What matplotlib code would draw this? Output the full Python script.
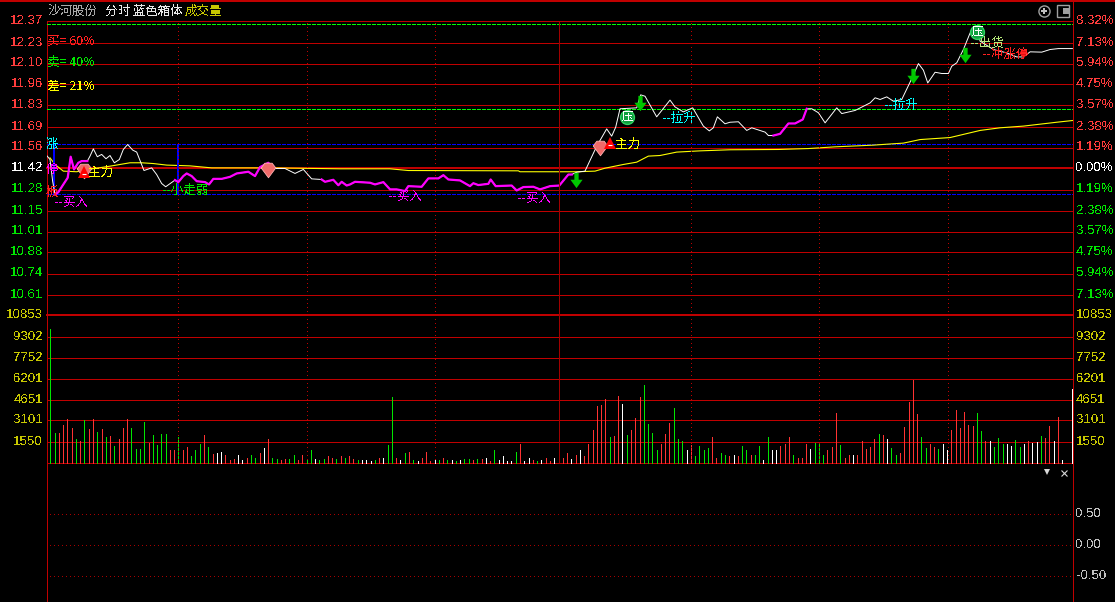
import matplotlib
matplotlib.use("Agg")
import matplotlib.pyplot as plt
import numpy as np

plt.rcParams['font.family'] = ['Noto Sans CJK SC', 'DejaVu Sans']
plt.rcParams['text.antialiased'] = False

# price line (minute of the session, price)
price_minutes = [
    -0.85, -0.07, 0.55, 1.10, 1.88, 3.05, 4.07, 4.77, 5.55, 6.56, 7.35, 8.67, 9.30, 10.08, 11.01, 12.03,
    13.04, 13.98, 15.0, 16.17, 17.1, 18.12, 19.29, 20.23, 21.94, 23.74, 24.91, 26.08, 27.02, 29.2, 29.98,
    31.15, 31.94, 33.11, 34.28, 36.23, 37.17, 38.18, 40.13, 42.08, 43.65, 46.38, 47.94, 49.11, 51.06,
    52.23, 54.96, 57.31, 59.26, 61.21, 63.55, 64.33, 66.28, 67.46, 68.24, 69.41, 70.19, 71.36, 74.87,
    76.04, 78.0, 79.56, 81.12, 83.07, 83.85, 86.97, 88.53, 90.88, 92.05, 93.22, 95.95, 98.29, 99.07,
    100.24, 102.59, 103.13, 104.3, 108.05, 109.22, 110.78, 113.12, 114.69, 117.03, 119.21, 121.32, 122.1,
    123.27, 125.22, 127.96, 130.3, 131.47, 132.41, 133.42, 137.33, 138.26, 139.28, 142.01, 145.13, 146.3,
    148.25, 150.44, 152.94, 154.34, 155.28, 156.22, 158.01, 159.18, 161.15, 163.1, 164.27, 167.4, 168.18,
    169.35, 170.91, 172.86, 174.42, 176.22, 177.15, 178.33, 179.89, 181.45, 184.18, 185.35, 188.47,
    191.99, 193.16, 194.33, 195.89, 197.45, 199.4, 201.35, 203.31, 204.48, 205.49, 207.21, 208.77, 210.33,
    211.11, 212.28, 213.84, 215.41, 216.97, 217.75, 220.87, 224.0, 226.33, 227.9, 229.46, 232.19, 234.14,
    236.1, 239.37,
]
price_values = [
    11.504, 11.478, 11.338, 11.252, 11.267, 11.317, 11.360, 11.496, 11.414, 11.457, 11.468, 11.468, 11.500,
    11.547, 11.496, 11.511, 11.483, 11.504, 11.457, 11.478, 11.543, 11.575, 11.539, 11.526, 11.407, 11.424,
    11.381, 11.323, 11.302, 11.345, 11.332, 11.371, 11.388, 11.371, 11.338, 11.332, 11.317, 11.353, 11.353,
    11.366, 11.388, 11.399, 11.371, 11.429, 11.457, 11.420, 11.420, 11.388, 11.414, 11.353, 11.349, 11.334,
    11.347, 11.312, 11.334, 11.310, 11.317, 11.334, 11.328, 11.317, 11.332, 11.285, 11.285, 11.274, 11.306,
    11.302, 11.356, 11.356, 11.377, 11.349, 11.343, 11.306, 11.325, 11.313, 11.321, 11.349, 11.306, 11.310,
    11.278, 11.300, 11.302, 11.285, 11.306, 11.310, 11.381, 11.381, 11.396, 11.403, 11.564, 11.676, 11.629,
    11.687, 11.806, 11.812, 11.896, 11.887, 11.754, 11.862, 11.818, 11.786, 11.812, 11.694, 11.663, 11.683,
    11.754, 11.709, 11.719, 11.722, 11.666, 11.683, 11.655, 11.633, 11.633, 11.644, 11.711, 11.711, 11.737,
    11.806, 11.806, 11.780, 11.715, 11.812, 11.775, 11.795, 11.844, 11.877, 11.866, 11.883, 11.855, 11.866,
    11.978, 12.098, 12.055, 11.973, 12.042, 12.034, 12.034, 12.081, 12.103, 12.189, 12.296, 12.329, 12.243,
    12.189, 12.167, 12.141, 12.141, 12.174, 12.172, 12.189, 12.195, 12.195,
]
# stretches of the price line shown in magenta
magenta_spans = [(1.10, 8.67), (29.2, 52.23), (63.55, 122.1), (169.35, 177.15)]

# average price line
avg_minutes = [
    -0.07, 1.10, 3.05, 6.17, 8.91, 13.98, 16.32, 18.66, 21.4, 24.13, 27.25, 32.72, 37.79, 52.23, 67.84,
    79.56, 83.85, 109.61, 110.0, 123.27, 127.57, 129.91, 134.2, 137.33, 140.06, 142.79, 146.69, 152.16,
    159.18, 170.52, 177.55, 183.79, 192.77, 195.89, 199.79, 203.7, 210.72, 217.75, 222.43, 227.9, 235.7,
    239.37,
]
avg_values = [
    11.489, 11.446, 11.403, 11.399, 11.414, 11.435, 11.446, 11.457, 11.457, 11.452, 11.442, 11.437, 11.424,
    11.424, 11.418, 11.418, 11.407, 11.405, 11.399, 11.399, 11.403, 11.422, 11.446, 11.461, 11.500, 11.504,
    11.526, 11.534, 11.541, 11.543, 11.549, 11.560, 11.571, 11.577, 11.584, 11.607, 11.620, 11.666, 11.683,
    11.694, 11.719, 11.730,
]

# volume per minute, with direction: r up, g down, w flat
volumes = [
    9865, 2214, 2214, 2804, 3247, 2583, 1771, 1624, 3173, 2509, 3247, 2288, 2509, 1919, 1993, 1255, 1771,
    2583, 3247, 2583, 1033, 1033, 3026, 1476, 2066, 1328, 2140, 2140, 959, 959, 1919, 886, 1181, 443, 886,
    1402, 2066, 1181, 664, 738, 812, 517, 148, 295, 590, 221, 369, 517, 369, 738, 1107, 1771, 369, 295, 148,
    295, 295, 517, 148, 517, 295, 886, 295, 221, 295, 443, 369, 295, 443, 369, 443, 295, 221, 221, 221, 74,
    148, 369,
    369, 1328, 4871, 369, 148, 738, 812, 221, 74, 369, 812, 74, 221, 148, 369, 221, 221, 74, 148, 295, 295,
    148, 295, 295, 369, 74, 886, 148, 443, 74, 74, 812, 1402, 74, 369, 148, 74, 221, 369, 74, 369, 0, 369,
    738, 295, 517, 959, 443, 1402, 2435, 4207, 4280, 4723, 1919, 1993, 4945, 4354, 2066, 2435, 3321, 4871,
    5756, 2878, 2214, 959, 1402, 2140, 2952, 4059, 1771, 1624, 886, 1328, 443, 1255, 886, 1107, 1919, 369,
    738, 590,
    443, 590, 443, 1255, 959, 590, 517, 1255, 221, 1919, 886, 886, 1255, 1402, 1919, 590, 369, 369, 1402,
    1033, 1476, 1402, 590, 959, 1181, 3690, 1328, 369, 590, 517, 590, 1624, 1033, 1181, 1771, 2140, 2066,
    1771, 1107, 517, 738, 2657, 4502, 6125, 3616, 1919, 1107, 1402, 1181, 1033, 1402, 886, 2435, 3911, 2583,
    3764, 2804, 2731, 3690, 2362, 1624, 1624, 1181, 1845, 1402, 1402, 1255, 1697, 1181, 1402, 1624, 1476,
    1550, 1993, 1845, 2731, 1624, 3395, 221, 0, 5436,
]
directions = (
    "ggrrrrgrgr rgrgrgrrrg gggrggggrr grrgggrgrw wrrrwwrggr wrggrrggrr ggwggrrgrg rrgwwwgr"
    "wggrwgrgwr rrwgrgwgwg grgrwrgwww wgrwwrgwrr wwrrwrwrrr rrrgrrwgrr rggggrrrgg gwrggggrrg g"
    "rwrggrggwg wwrrrgrrrw gggrrrgrrw rrrrrgrwgg rrrrrggrrg wwrrrrrrgg rwgggwwggw rwwgrrwrw ww"
).replace(" ", "")
volume_minutes = np.arange(240.0)
volume_minutes[-1] = 239.35

price_ticks = ["12.37", "12.23", "12.10", "11.96", "11.83", "11.69", "11.56", "11.42",
               "11.28", "11.15", "11.01", "10.88", "10.74", "10.61"]
pct_ticks = ["8.32%", "7.13%", "5.94%", "4.75%", "3.57%", "2.38%", "1.19%", "0.00%",
             "1.19%", "2.38%", "3.57%", "4.75%", "5.94%", "7.13%"]
volume_ticks = [10853, 9302, 7752, 6201, 4651, 3101, 1550]
lower_ticks = [0.5, 0.0, -0.5]

# signal marks (minute, price)
gems = [(7.9, 11.405), (51, 11.412), (128.7, 11.554)]
red_flags = [(7.9, 11.399), (131.1, 11.586)]
arrows = [(123.1, 11.347), (138.1, 11.844), (202.1, 12.019), (214.2, 12.155)]
press_marks = [(135.1, 11.754), (217.0, 12.303)]
blue_bars = [(0.9, 11.258, 11.58), (30, 11.258, 11.58)]
notes = [
    (0.9, 11.198, "--买入", "#ff00ff"), (8.8, 11.392, "主力", "#ffff00"), (26.2, 11.282, "--小走弱", "#00e600"),
    (79.3, 11.237, "--买入", "#ff00ff"), (109.3, 11.224, "--买入", "#ff00ff"), (132.3, 11.573, "主力", "#ffff00"),
    (143.3, 11.741, "--拉升", "#00ffff"), (195.3, 11.825, "--拉升", "#00ffff"),
    (215.4, 12.232, "--出货", "#b4e678"), (218.4, 12.155, "--冲涨停", "#ff2020"),
]

W, H = 1115, 602
RED = "#ff3c3c"
GREEN = "#00e600"
GRID = "#c00000"
GOLD = "#c8c800"
NUM_FONT = ['Liberation Sans', 'DejaVu Sans']
THIN = 0.72  # one pixel at 100 dpi
THICK = 1.44


def panel(top, bottom, left=46.5, right=1072.5):
    ax = fig.add_axes([left / W, 1 - bottom / H, (right - left) / W, (bottom - top) / H])
    ax.patch.set_visible(False)
    for s in ax.spines.values():
        s.set_visible(False)
    ax.set_xlim(-0.89, 239.39)
    ax.set_xticks([])
    ax.set_yticks([])
    return ax


def side_labels(ax, positions, labels, colors, left=True, right=True):
    for pos, lab, col in zip(positions, labels, colors):
        if left:
            ax.annotate(lab, (0, pos), xycoords=ax.get_yaxis_transform(), xytext=(-2.5, 0), textcoords='offset points',
                        ha='right', va='center', color=col, fontsize=9.5, family=NUM_FONT, annotation_clip=False)
        if right:
            ax.annotate(lab, (1, pos), xycoords=ax.get_yaxis_transform(), xytext=(2.5, 0), textcoords='offset points',
                        ha='left', va='center', color=col, fontsize=9.5, family=NUM_FONT, annotation_clip=False)


fig = plt.figure(figsize=(W / 100, H / 100), dpi=100, facecolor='black')

# frame in pixel coordinates
frame = fig.add_axes([0, 0, 1, 1])
frame.set_xlim(0, W)
frame.set_ylim(H, 0)
frame.axis('off')
frame.plot([0, W], [0.5, 0.5], color=GRID, lw=THICK, antialiased=False)
frame.plot([46.5, 46.5], [21, H], color=GRID, lw=THIN, antialiased=False)
frame.plot([1072.5, 1072.5], [0, H], color=GRID, lw=THIN, antialiased=False)

frame.text(48, 11, "沙河股份", color="#a8a8a8", fontsize=9, va='center')
frame.text(105, 11, "分时 蓝色箱体", color="#e8e8e8", fontsize=9, va='center')
frame.text(185, 11, "成交量", color=GOLD, fontsize=9, va='center')
frame.plot(1044, 10.5, 'o', ms=8, mfc='none', mec='#a0a0a0', mew=1)
frame.plot(1044, 10.5, 'P', ms=5, color='#c0c0c0', mew=0)
frame.plot(1063, 10.5, 's', ms=8, mfc='none', mec='#a0a0a0', mew=1)
frame.plot(1066, 10.5, 's', ms=4, color='#a0a0a0', mew=0)
frame.plot(1047, 472, 'v', ms=5, color='#d8d8d8', mew=0)
frame.plot(1064, 472.5, 'x', ms=5, color='#d8d8d8', mew=0.8)

# price panel
ax_price = panel(21.5, 315.5)
ax_price.set_ylim(10.47, 12.37)
tick_pos = 12.37 - np.arange(14) * (1.9 / 14)
for y in tick_pos:
    ax_price.axhline(y, color=GRID, lw=THICK if abs(y - 11.42) < 0.01 else THIN, antialiased=False, zorder=1,
                     clip_on=False)
ax_price.axhline(10.47, color=GRID, lw=THICK, antialiased=False, zorder=1, clip_on=False)
price_colors = [RED] * 7 + ["white"] + [GREEN] * 6
side_labels(ax_price, tick_pos, price_ticks, price_colors, right=False)
side_labels(ax_price, tick_pos, pct_ticks, price_colors, left=False)

for y, col in [(12.355, "#00ff00"), (11.806, "#00ff00"), (11.58, "#0000ff"), (11.258, "#0000ff")]:
    ax_price.axhline(y, color=col, lw=THIN, ls=(0, (4, 2)), antialiased=False, zorder=2)

mins = np.array(price_minutes)
vals = np.array(price_values)
ax_price.plot(avg_minutes, avg_values, color="#ffff00", lw=0.8, zorder=3)
ax_price.plot(mins, vals, color="white", lw=0.7, zorder=4)
for start, end in magenta_spans:
    keep = (mins >= start) & (mins <= end)
    ax_price.plot(mins[keep], vals[keep], color="#ff00ff", lw=1.6, zorder=5)

for m, low, high in blue_bars:
    ax_price.vlines(m, low, high, color="#0000ff", lw=THICK, zorder=3, antialiased=False)

gem_shape = [(-1, 0.35), (-0.5, 1), (0.5, 1), (1, 0.35), (0, -1), (-1, 0.35)]
arrow_shape = [(-0.28, 1), (0.28, 1), (0.28, 0.1), (0.8, 0.1), (0, -1), (-0.8, 0.1), (-0.28, 0.1), (-0.28, 1)]
for m, p in gems:
    ax_price.plot(m, p, marker=gem_shape, ms=10.5, mfc="#f06a6a", mec="#ffb0b0", mew=0.6, zorder=6)
for m, p in red_flags:
    ax_price.plot(m, p, '^', ms=8, color="#ff0000", mew=0, zorder=7)
    ax_price.plot(m, p - 0.012, '_', ms=3, color="white", mew=0.8, zorder=8)
for m, p in arrows:
    ax_price.plot(m, p, marker=arrow_shape, ms=11, color="#00c800", mew=0, zorder=7)
for m, p in press_marks:
    ax_price.plot(m, p, 'o', ms=10, mfc="#10a040", mec="#30d060", mew=1, zorder=7)
    ax_price.text(m, p, "压", color="white", fontsize=8, ha='center', va='center', zorder=8)
ax_price.plot(227.8, 12.161, marker=gem_shape, ms=6, color="#e01010", mew=0, zorder=6)

for m, p, label, col in notes:
    ax_price.text(m, p, label, color=col, fontsize=9, ha='left', va='center', zorder=9)
for p, label, col in [(11.573, "涨", "#00ffff"), (11.412, "停", "#ff00ff"), (11.263, "板", "#ff2020")]:
    ax_price.text(0.45, p, label, color=col, fontsize=9, ha='center', va='center', zorder=9)
for p, label, col in [(12.245, "买= 60%", "#ff2020"), (12.103, "卖= 40%", GREEN), (11.948, "差= 21%", "#ffff00")]:
    ax_price.text(-0.77, p, label, color=col, fontsize=9, ha='left', va='center', zorder=9)

# volume panel
ax_vol = panel(315.5, 462.5)
ax_vol.set_ylim(0, 10853)
for y in volume_ticks[1:]:
    ax_vol.axhline(y, color=GRID, lw=THIN, antialiased=False, zorder=1)
ax_vol.axhline(0, color=GRID, lw=THIN, antialiased=False, zorder=1, clip_on=False)
side_labels(ax_vol, volume_ticks, [str(v) for v in volume_ticks], [GOLD] * 7)
bar_colors = {"r": "#ff3232", "g": "#00e600", "w": "#ffffff"}
assert len(directions) == len(volumes)
ax_vol.vlines(volume_minutes, 0, volumes, colors=[bar_colors[d] for d in directions], lw=THIN, zorder=3,
              antialiased=False, clip_on=False)

# empty indicator panel
ax_low = panel(462.5, 602)
ax_low.set_ylim(-0.911, 1.33)
for y in lower_ticks:
    ax_low.plot([0.0, 239.39], [y, y], color="#a80000", lw=0.6, ls=(0, (1.2, 3.6)), antialiased=False)
side_labels(ax_low, lower_ticks, ["0.50", "0.00", "-0.50"], ["#c0c0c0"] * 3, left=False)

# session time marks run through price and volume panels
ax_vert = panel(21.5, 462.5)
ax_vert.set_ylim(0, 1)
for m in [30, 60, 90.2, 150.1, 180.1, 210.2]:
    ax_vert.axvline(m, color=GRID, lw=THIN, ls=(0, (1, 3)), antialiased=False)
ax_vert.axvline(119.2, color="#a00000", lw=THIN, antialiased=False)

fig.savefig("out.png", dpi=100, facecolor='black')
